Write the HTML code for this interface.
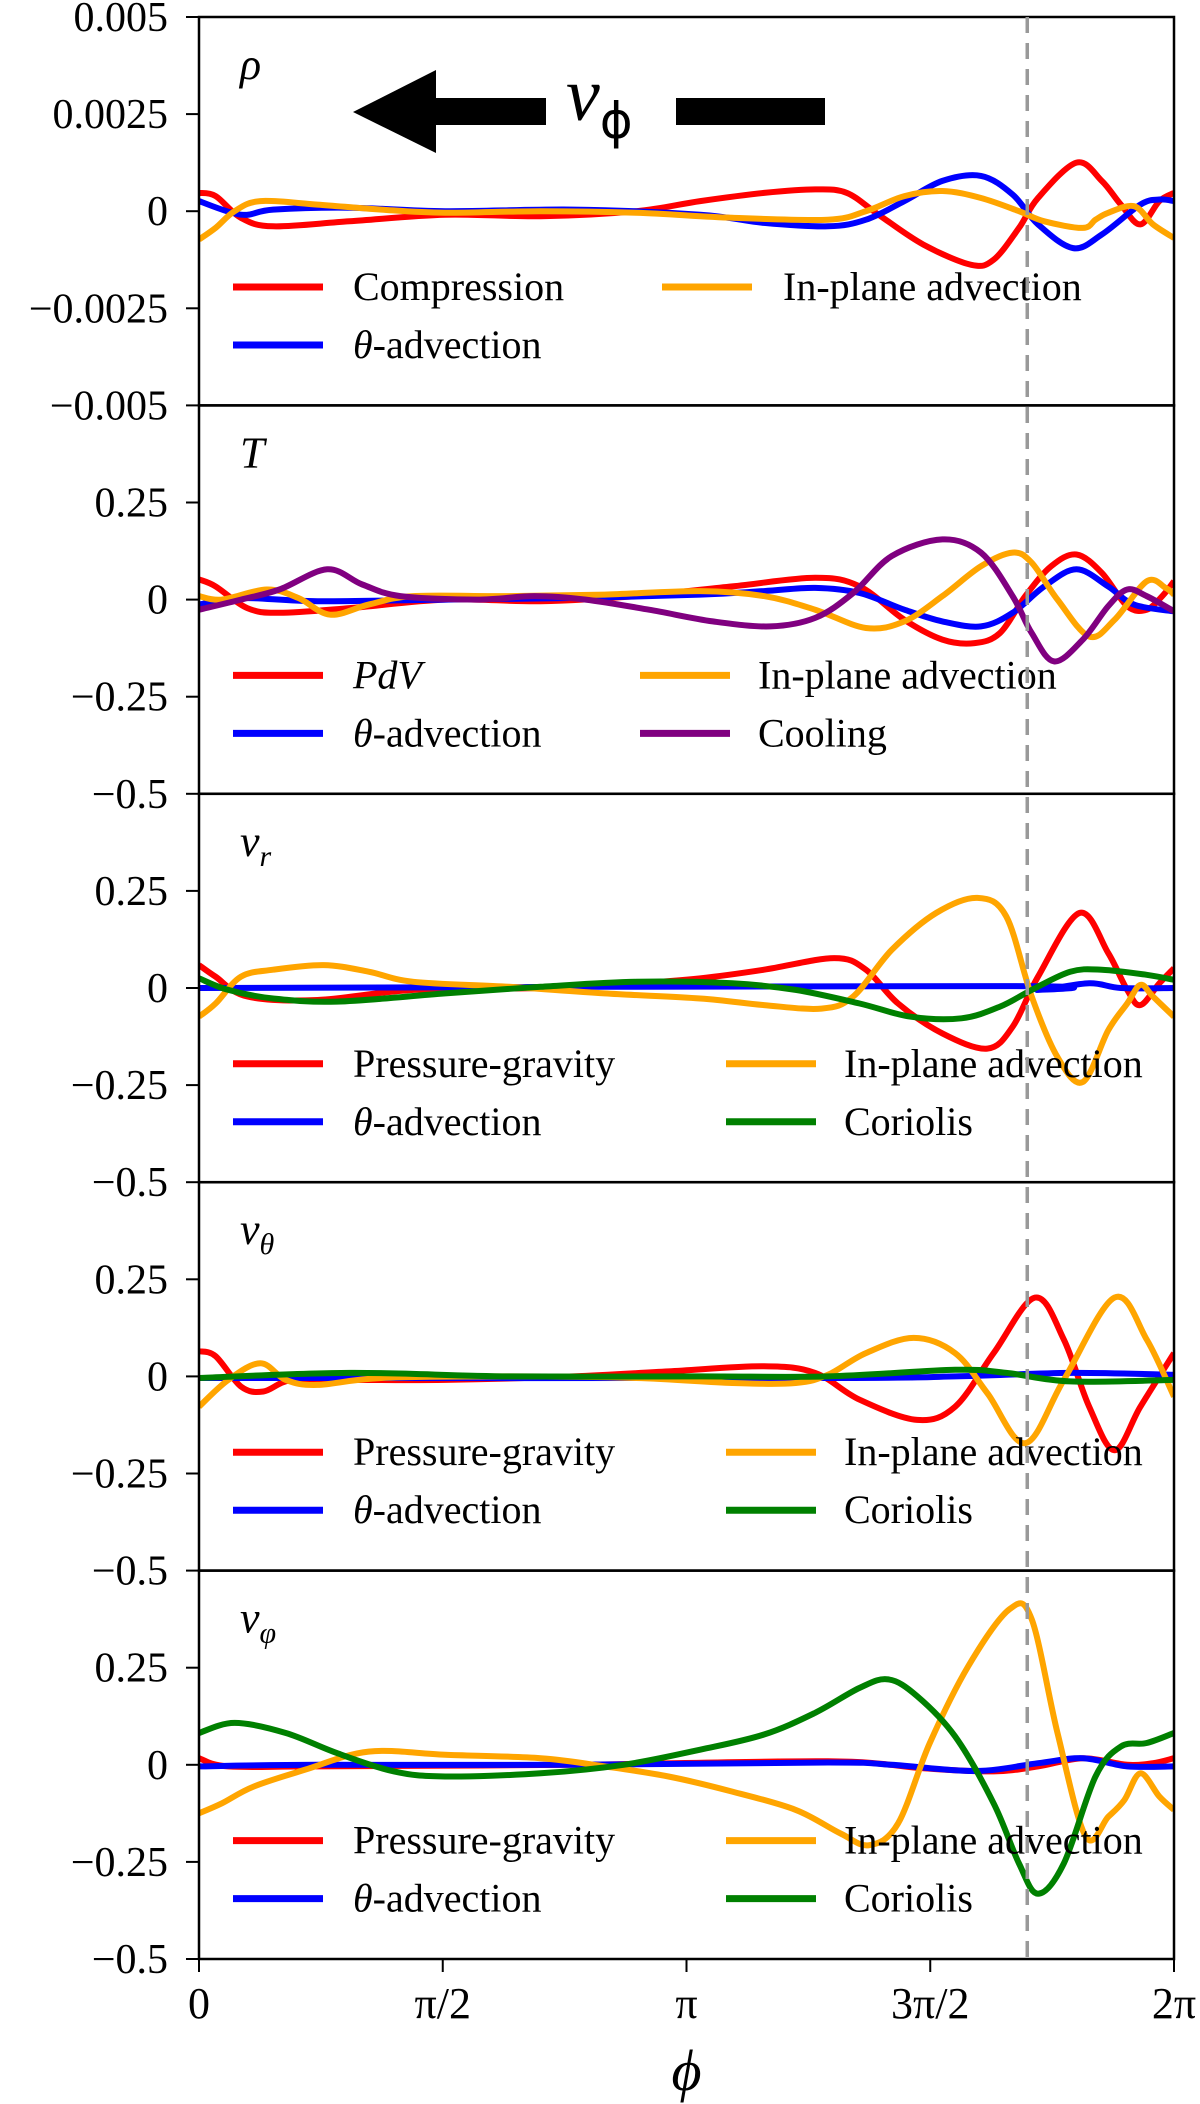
<!DOCTYPE html>
<html><head><meta charset="utf-8"><style>
html,body{margin:0;padding:0;background:#fff;}
svg{display:block;font-family:"Liberation Serif",serif;}
</style></head><body>
<svg id="chart" width="1200" height="2104" viewBox="0 0 1200 2104" xmlns="http://www.w3.org/2000/svg"></svg>
<script>
// x values in units of pi
const xTickVals = [0, 0.5, 1, 1.5, 2];
const xTickLabels = ["0", "π/2", "π", "3π/2", "2π"];
const panelTitles = ["ρ", "T", "v_r", "v_θ", "v_φ"];
const panelMax = [0.005, 0.5, 0.5, 0.5, 0.5];
const rhoTicks = ["0.005", "0.0025", "0", "−0.0025", "−0.005"];
const velTicks = ["", "0.25", "0", "−0.25", "−0.5"];
const dashedPhi = 1.699;

// Panel 1: rho
const rhoRedX = [0,.034,.086,.152,.309,.505,.701,.897,1.028,1.159,1.264,1.329,1.394,1.486,1.584,1.630,1.682,1.721,1.800,1.852,1.891,1.931,1.970,2];
const rhoRedY = [.00047,.00039,-.00017,-.00039,-.00026,-.00009,-.00013,0,.00026,.00047,.00056,.00047,-.00009,-.00086,-.00138,-.00125,-.00043,.00034,.00125,.00078,.00017,-.00034,.00026,.00047];
const rhoBlueX = [0,.086,.152,.309,.505,.767,1.028,1.159,1.290,1.368,1.447,1.525,1.604,1.669,1.721,1.793,1.852,1.931,1.970,2];
const rhoBlueY = [.00026,-.00009,.00004,.00009,0,.00004,-.00009,-.0003,-.00039,-.00022,.00026,.00078,.00091,.00043,-.00034,-.00095,-.0006,.00017,.0003,.00026];
const rhoOrX = [0,.034,.073,.126,.243,.374,.505,.701,.897,1.094,1.290,1.368,1.447,1.525,1.604,1.682,1.734,1.813,1.839,1.865,1.918,1.957,2];
const rhoOrY = [-.00073,-.00043,0,.00026,.00017,.00004,-.00004,0,-.00004,-.00017,-.00022,0,.00039,.00052,.00034,0,-.00026,-.00043,-.00022,-.00004,.00013,-.00034,-.00069];

// Panel 2: T
const tRedX = [0,.034,.099,.165,.309,.505,.701,.897,1.094,1.264,1.355,1.447,1.525,1.591,1.643,1.695,1.748,1.800,1.852,1.904,1.944,1.976,2];
const tRedY = [.052,.034,-.022,-.034,-.022,0,-.004,.009,.034,.056,.034,-.052,-.103,-.112,-.086,.009,.086,.116,.069,-.017,-.026,.009,.047];
const tBlueX = [0,.086,.243,.505,.767,1.028,1.159,1.264,1.355,1.447,1.525,1.604,1.669,1.734,1.800,1.865,1.918,2];
const tBlueY = [-.013,.004,-.004,0,.004,.013,.022,.03,.017,-.026,-.056,-.069,-.034,.034,.078,.034,-.013,-.03];
const tOrX = [0,.047,.139,.204,.269,.348,.440,.636,.832,1.028,1.159,1.264,1.368,1.447,1.525,1.604,1.669,1.708,1.761,1.826,1.878,1.944,1.983,2];
const tOrY = [.009,0,.026,.004,-.039,-.013,.009,.009,.013,.022,.009,-.026,-.073,-.056,.009,.086,.121,.095,0,-.095,-.052,.047,.03,.013];
const tPurX = [0,.086,.165,.263,.335,.413,.570,.688,.793,.923,1.054,1.172,1.264,1.342,1.421,1.525,1.604,1.669,1.708,1.754,1.813,1.865,1.904,1.944,2];
const tPurY = [-.026,0,.026,.078,.039,.009,0,.009,0,-.026,-.056,-.069,-.047,.017,.112,.155,.121,.009,-.086,-.159,-.103,-.017,.026,.009,-.03];

// Panel 3: v_r
const vrRedX = [0,.034,.099,.243,.440,.701,.897,1.028,1.159,1.303,1.368,1.434,1.525,1.617,1.669,1.721,1.806,1.865,1.904,1.931,1.970,2];
const vrRedY = [.059,.029,-.022,-.031,-.005,0,.012,.025,.047,.077,.047,-.04,-.117,-.156,-.1,.029,.193,.09,-.005,-.044,.012,.051];
const vrBlueX = [0,1.656,1.721,1.826,1.891,2];
const vrBlueY = [0,.005,-.005,.012,0,0];
const vrOrX = [0,.034,.086,.152,.256,.348,.440,.636,.832,1.028,1.159,1.277,1.342,1.421,1.512,1.597,1.656,1.708,1.761,1.813,1.865,1.904,1.931,1.957,2];
const vrOrY = [-.074,-.04,.029,.047,.059,.042,.016,.003,-.014,-.027,-.044,-.053,-.022,.098,.193,.232,.184,-.022,-.178,-.242,-.109,-.04,.008,-.022,-.074];
const vrGrX = [0,.060,.152,.283,.505,.701,.897,1.094,1.224,1.355,1.460,1.564,1.643,1.708,1.787,1.852,1.944,2];
const vrGrY = [.025,-.005,-.027,-.035,-.014,.003,.016,.012,-.005,-.04,-.074,-.078,-.048,-.005,.042,.047,.034,.021];

// Panel 4: v_theta
const vtRedX = [0,.034,.086,.132,.191,.309,.505,.767,.963,1.159,1.264,1.355,1.473,1.551,1.630,1.715,1.774,1.826,1.878,1.931,2];
const vtRedY = [.065,.052,-.026,-.039,-.009,-.009,-.009,0,.013,.026,.009,-.06,-.112,-.078,.06,.203,.095,-.078,-.19,-.078,.06];
const vtBlueX = [0,1.290,1.551,1.787,2];
const vtBlueY = [-.004,-.004,0,.009,.004];
const vtOrX = [0,.060,.126,.178,.243,.374,.636,.897,1.094,1.224,1.290,1.368,1.466,1.551,1.617,1.695,1.774,1.878,1.944,2];
const vtOrY = [-.078,-.009,.034,-.009,-.022,-.004,0,-.004,-.017,-.017,.004,.06,.099,.06,-.043,-.172,-.009,.203,.095,-.052];
const vtGrX = [0,.309,.636,1.028,1.290,1.551,1.656,1.787,2];
const vtGrY = [-.004,.009,0,0,0,.017,.009,-.013,-.009];

// Panel 5: v_phi
const vpRedX = [0,.060,.243,.767,1.290,1.486,1.630,1.721,1.813,1.904,1.957,2];
const vpRedY = [.017,-.004,-.004,0,.009,-.009,-.017,-.004,.017,0,.004,.017];
const vpBlueX = [0,.243,.767,1.290,1.421,1.591,1.721,1.813,1.904,2];
const vpBlueY = [-.004,0,0,.006,0,-.016,.004,.017,-.004,-.004];
const vpOrX = [0,.047,.112,.217,.348,.505,.701,.832,.963,1.094,1.224,1.316,1.375,1.434,1.499,1.578,1.663,1.708,1.761,1.819,1.865,1.898,1.931,1.970,2];
const vpOrY = [-.125,-.099,-.056,-.013,.034,.026,.017,-.004,-.03,-.069,-.116,-.177,-.207,-.151,.056,.254,.401,.375,.082,-.185,-.134,-.091,-.022,-.082,-.116];
const vpGrX = [0,.073,.178,.283,.400,.505,.701,.871,1.028,1.159,1.264,1.355,1.414,1.473,1.551,1.630,1.682,1.721,1.774,1.839,1.891,1.944,2];
const vpGrY = [.082,.108,.082,.03,-.017,-.03,-.022,0,.039,.078,.134,.198,.22,.177,.073,-.099,-.254,-.332,-.254,-.03,.047,.056,.082];

const RED="#ff0000", BLUE="#0000ff", ORANGE="#ffa500", GREEN="#008000", PURPLE="#800080";
const panels = [
  {series:[[rhoRedX,rhoRedY,RED],[rhoBlueX,rhoBlueY,BLUE],[rhoOrX,rhoOrY,ORANGE]],
   legend:[["Compression",RED,0,0],["θ-advection",BLUE,0,1],["In-plane advection",ORANGE,1,0]], col2:[662,783]},
  {series:[[tRedX,tRedY,RED],[tBlueX,tBlueY,BLUE],[tOrX,tOrY,ORANGE],[tPurX,tPurY,PURPLE]],
   legend:[["PdV",RED,0,0],["θ-advection",BLUE,0,1],["In-plane advection",ORANGE,1,0],["Cooling",PURPLE,1,1]], col2:[640,758]},
  {series:[[vrRedX,vrRedY,RED],[vrBlueX,vrBlueY,BLUE],[vrOrX,vrOrY,ORANGE],[vrGrX,vrGrY,GREEN]],
   legend:[["Pressure-gravity",RED,0,0],["θ-advection",BLUE,0,1],["In-plane advection",ORANGE,1,0],["Coriolis",GREEN,1,1]], col2:[726,844]},
  {series:[[vtRedX,vtRedY,RED],[vtBlueX,vtBlueY,BLUE],[vtOrX,vtOrY,ORANGE],[vtGrX,vtGrY,GREEN]],
   legend:[["Pressure-gravity",RED,0,0],["θ-advection",BLUE,0,1],["In-plane advection",ORANGE,1,0],["Coriolis",GREEN,1,1]], col2:[726,844]},
  {series:[[vpRedX,vpRedY,RED],[vpBlueX,vpBlueY,BLUE],[vpOrX,vpOrY,ORANGE],[vpGrX,vpGrY,GREEN]],
   legend:[["Pressure-gravity",RED,0,0],["θ-advection",BLUE,0,1],["In-plane advection",ORANGE,1,0],["Coriolis",GREEN,1,1]], col2:[726,844]}
];

const NS="http://www.w3.org/2000/svg";
const svg=document.getElementById('chart');
const X0=199, X1=1174, TOP=17, BOT=1959, PH=(BOT-TOP)/5;
const xs = v => X0 + (v/2)*(X1-X0);
function mk(tag, attrs, parent){const e=document.createElementNS(NS,tag);for(const k in attrs)e.setAttribute(k,attrs[k]);(parent||svg).appendChild(e);return e;}
function smoothPath(pts){
  let d="M"+pts[0][0].toFixed(1)+","+pts[0][1].toFixed(1);
  for(let i=0;i<pts.length-1;i++){
    const p0=pts[Math.max(0,i-1)],p1=pts[i],p2=pts[i+1],p3=pts[Math.min(pts.length-1,i+2)];
    const c1x=p1[0]+(p2[0]-p0[0])/6,c1y=p1[1]+(p2[1]-p0[1])/6;
    const c2x=p2[0]-(p3[0]-p1[0])/6,c2y=p2[1]-(p3[1]-p1[1])/6;
    d+=" C"+c1x.toFixed(1)+","+c1y.toFixed(1)+" "+c2x.toFixed(1)+","+c2y.toFixed(1)+" "+p2[0].toFixed(1)+","+p2[1].toFixed(1);
  }
  return d;
}
function titleText(g,s,x,y){
  const t=mk('text',{x:x,y:y,'font-size':44,'font-style':'italic'},g);
  if(s.includes('_')){const [a,b]=s.split('_');t.textContent=a;const ts=mk('tspan',{'font-size':30,dy:10},t);ts.textContent=b;}
  else t.textContent=s;
  return t;
}

panels.forEach((p,i)=>{
  const top=TOP+i*PH, mid=top+PH/2, m=panelMax[i];
  const ys = v => mid - v/m*(PH/2);
  const g=mk('g',{});
  
  
  const clipId='clip'+i;
  const cp=mk('clipPath',{id:clipId},g);mk('rect',{x:X0,y:top,width:X1-X0,height:PH},cp);
  const labs = i===0 ? rhoTicks : velTicks;
  [m,m/2,0,-m/2,-m].forEach((v,k)=>{
    if(i>0 && k===0) return;
    const y=ys(v);
    const tk=mk('line',{x1:X0-13,x2:X0,y1:y,y2:y,stroke:'#000','stroke-width':2},g);
    
    
    const tl=mk('text',{x:168,y:y+14,'font-size':42,'text-anchor':'end'},g);
    tl.textContent=labs[k];
    
    
  });
  const sg=mk('g',{'clip-path':'url(#'+clipId+')'},g);
  p.series.forEach((s,j)=>{
    const pts=s[0].map((x,k)=>[xs(x),ys(s[1][k])]);
    const path=mk('path',{d:smoothPath(pts),fill:'none',stroke:s[2],'stroke-width':6,'stroke-linejoin':'round'},sg);
    
    
  });
  p.legend.forEach(l=>{
    const lx = l[2]===0 ? 233 : p.col2[0];
    const tx = l[2]===0 ? 353 : p.col2[1];
    const ly = top+270+l[3]*58;
    const ln=mk('line',{x1:lx,x2:lx+90,y1:ly,y2:ly,stroke:l[1],'stroke-width':7},g);
    
    
    const t=mk('text',{x:tx,y:ly+13,'font-size':40},g);
    
    
    if(l[0]==='PdV'){t.setAttribute('font-style','italic');t.textContent='PdV';}
    else if(l[0].startsWith('θ')){const a=mk('tspan',{'font-style':'italic'},t);a.textContent='θ';const b=mk('tspan',{},t);b.textContent='-advection';}
    else t.textContent=l[0];
  });
  const tt=titleText(g,panelTitles[i],240,top+62);
  
  
  const fr=mk('rect',{x:X0,y:top,width:X1-X0,height:PH,fill:'none',stroke:'#000','stroke-width':2.5},g);
  
  
});

const dl=mk('line',{x1:xs(dashedPhi),x2:xs(dashedPhi),y1:TOP,y2:BOT,stroke:'#999','stroke-width':3.5,'stroke-dasharray':'16,10'});



xTickVals.forEach((v,k)=>{
  const x=xs(v);
  const tk=mk('line',{x1:x,x2:x,y1:BOT,y2:BOT+13,stroke:'#000','stroke-width':2});
  
  
  const tl=mk('text',{x:x,y:2018,'font-size':44,'text-anchor':'middle'});
  tl.textContent=xTickLabels[k];
  
  
});
const xl=mk('text',{x:xs(1),y:2090,'font-size':58,'font-style':'italic','text-anchor':'middle'});
xl.textContent='ϕ';



const ag=mk('g',{});


mk('polygon',{points:'353,112 436,70 436,153',fill:'#000'},ag);
mk('rect',{x:434,y:98,width:112,height:27,fill:'#000'},ag);
mk('rect',{x:676,y:98,width:149,height:27,fill:'#000'},ag);
const av=mk('text',{x:566,y:120,'font-size':76,'font-style':'italic'},ag);
av.textContent='v';
const as=mk('tspan',{'font-size':50,dy:18,'font-family':'"DejaVu Sans",sans-serif','font-style':'normal'},av);
as.textContent='ϕ';
</script>
</body></html>
